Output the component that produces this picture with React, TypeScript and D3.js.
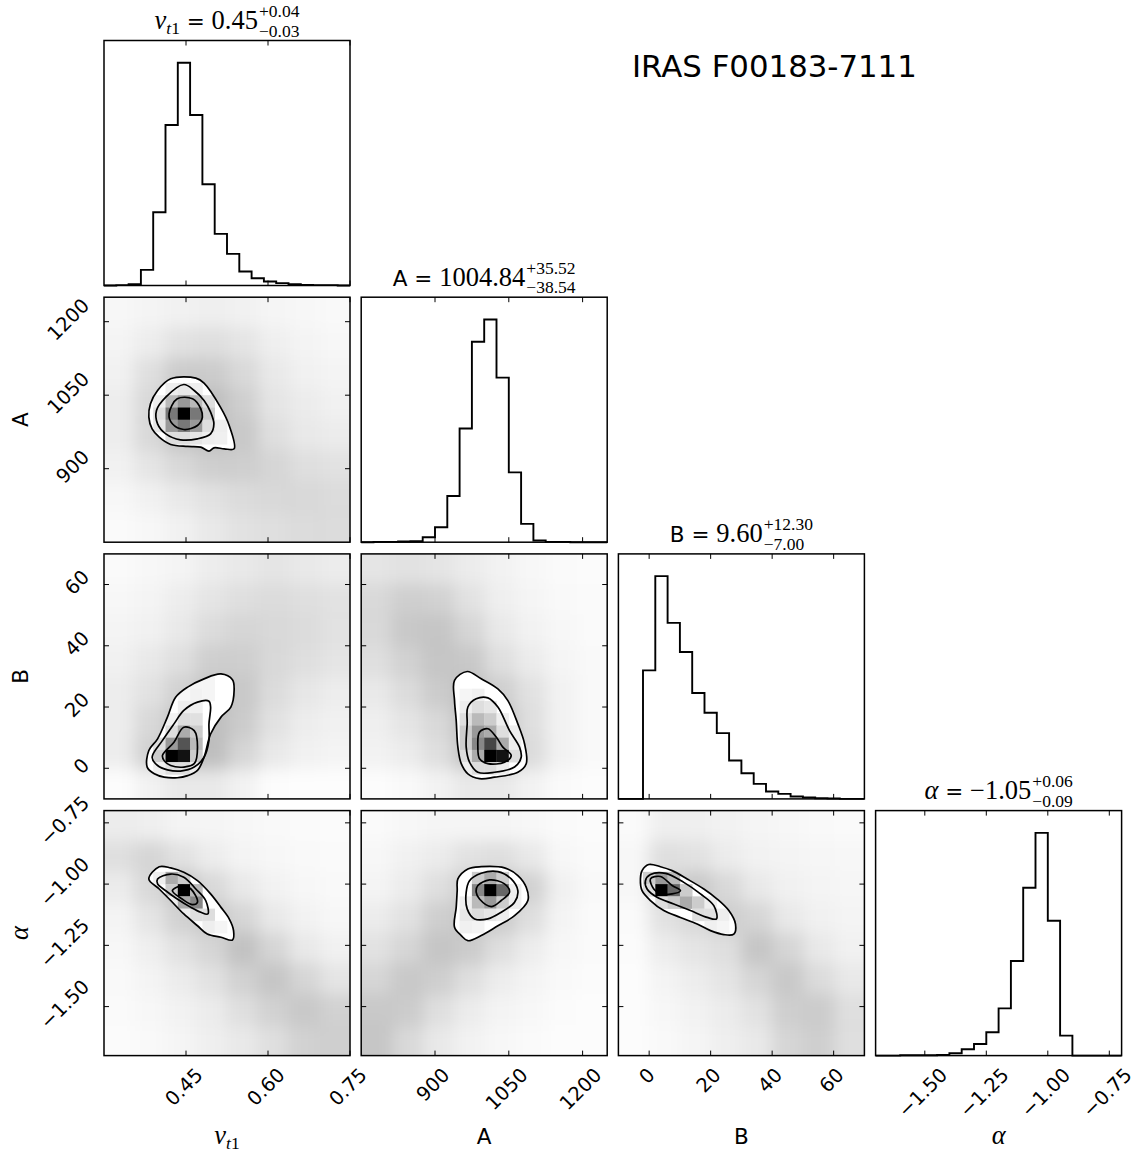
import React, { useEffect, useRef } from "react";
import * as d3 from "d3";

// ---------------- data ----------------
const chartTitle = "IRAS F00183-7111";
const axisRanges: [number, number][] = [[0.3, 0.75], [750, 1250], [-10, 70], [-1.7, -0.7]];
const tickValues = [[0.45, 0.6, 0.75], [900, 1050, 1200], [0, 20, 40, 60], [-1.5, -1.25, -1.0, -0.75]];
const tickLabels = [
  ["0.45", "0.60", "0.75"],
  ["900", "1050", "1200"],
  ["0", "20", "40", "60"],
  ["−1.50", "−1.25", "−1.00", "−0.75"],
];
const titleValues = ["0.45", "1004.84", "9.60", "−1.05"];
const titlePlus = ["+0.04", "+35.52", "+12.30", "+0.06"];
const titleMinus = ["−0.03", "−38.54", "−7.00", "−0.09"];

// 1D histograms, 20 bins across each axis range
const histNu = [0, 1, 4, 47, 220, 482, 669, 512, 304, 155, 95, 42, 22, 12, 7, 4, 2, 1, 1, 0];
const histA = [0, 1, 1, 2, 3, 15, 45, 139, 342, 603, 670, 495, 210, 55, 5, 1, 1, 0, 0, 0];
const histB = [0, 0, 385, 667, 527, 440, 317, 258, 197, 115, 77, 45, 22, 15, 7, 4, 2, 1, 0, 0];
const histAlpha = [0, 0, 1, 1, 1, 2, 7, 19, 35, 70, 142, 284, 504, 669, 405, 60, 0, 0, 0, 0];

// sample-cloud density, 8x8 cells, rows from highest y to lowest y
const densNuA = [
  [0.12, 0.18, 0.22, 0.25, 0.22, 0.15, 0.12, 0.1],
  [0.18, 0.28, 0.45, 0.5, 0.4, 0.25, 0.18, 0.12],
  [0.22, 0.5, 0.8, 0.8, 0.6, 0.35, 0.22, 0.18],
  [0.28, 0.6, 1, 1, 0.75, 0.4, 0.3, 0.22],
  [0.28, 0.6, 0.9, 0.95, 0.85, 0.5, 0.35, 0.3],
  [0.22, 0.4, 0.6, 0.75, 0.75, 0.65, 0.5, 0.45],
  [0.12, 0.22, 0.35, 0.45, 0.55, 0.6, 0.6, 0.55],
  [0.08, 0.12, 0.22, 0.35, 0.45, 0.5, 0.55, 0.55],
];
const densNuB = [
  [0.08, 0.12, 0.18, 0.28, 0.35, 0.4, 0.35, 0.3],
  [0.12, 0.18, 0.28, 0.4, 0.5, 0.55, 0.5, 0.45],
  [0.18, 0.22, 0.35, 0.55, 0.65, 0.6, 0.55, 0.45],
  [0.22, 0.35, 0.5, 0.75, 0.75, 0.6, 0.5, 0.4],
  [0.28, 0.45, 0.7, 0.9, 0.85, 0.55, 0.38, 0.28],
  [0.28, 0.6, 0.9, 1, 0.8, 0.45, 0.28, 0.22],
  [0.28, 0.7, 1, 1, 0.65, 0.35, 0.22, 0.18],
  [0.05, 0.2, 0.35, 0.35, 0.2, 0.05, 0.03, 0.03],
];
const densAB = [
  [0.4, 0.45, 0.4, 0.3, 0.2, 0.12, 0.08, 0.06],
  [0.6, 0.75, 0.7, 0.45, 0.25, 0.15, 0.1, 0.08],
  [0.6, 0.85, 0.9, 0.65, 0.35, 0.2, 0.12, 0.08],
  [0.5, 0.7, 0.9, 0.85, 0.5, 0.3, 0.15, 0.1],
  [0.35, 0.55, 0.8, 0.95, 0.75, 0.45, 0.2, 0.1],
  [0.25, 0.4, 0.6, 0.95, 0.95, 0.5, 0.2, 0.1],
  [0.2, 0.3, 0.5, 0.9, 0.95, 0.55, 0.2, 0.1],
  [0.05, 0.1, 0.2, 0.35, 0.35, 0.2, 0.08, 0.05],
];
const densNuAlpha = [
  [0.3, 0.25, 0.18, 0.15, 0.12, 0.1, 0.08, 0.06],
  [0.5, 0.65, 0.45, 0.28, 0.18, 0.12, 0.1, 0.08],
  [0.3, 0.6, 0.9, 0.6, 0.35, 0.2, 0.12, 0.1],
  [0.18, 0.4, 0.7, 0.85, 0.65, 0.35, 0.2, 0.12],
  [0.12, 0.25, 0.45, 0.65, 0.95, 0.65, 0.35, 0.22],
  [0.1, 0.18, 0.3, 0.45, 0.7, 0.9, 0.65, 0.4],
  [0.08, 0.12, 0.2, 0.3, 0.5, 0.7, 0.85, 0.7],
  [0.06, 0.1, 0.15, 0.25, 0.35, 0.5, 0.7, 0.75],
];
const densAAlpha = [
  [0.08, 0.12, 0.15, 0.15, 0.15, 0.12, 0.08, 0.06],
  [0.12, 0.22, 0.3, 0.45, 0.5, 0.35, 0.12, 0.08],
  [0.18, 0.3, 0.5, 0.75, 0.9, 0.7, 0.22, 0.1],
  [0.3, 0.45, 0.75, 0.85, 0.8, 0.5, 0.18, 0.08],
  [0.45, 0.65, 0.9, 0.8, 0.5, 0.28, 0.12, 0.08],
  [0.65, 0.85, 0.75, 0.5, 0.28, 0.18, 0.1, 0.06],
  [0.85, 0.8, 0.5, 0.3, 0.18, 0.12, 0.06, 0.04],
  [0.9, 0.6, 0.35, 0.2, 0.12, 0.08, 0.04, 0.04],
];
const densBAlpha = [
  [0.08, 0.25, 0.25, 0.2, 0.15, 0.12, 0.1, 0.08],
  [0.12, 0.5, 0.45, 0.3, 0.2, 0.18, 0.14, 0.12],
  [0.12, 0.6, 0.85, 0.6, 0.35, 0.22, 0.18, 0.14],
  [0.08, 0.45, 0.6, 0.75, 0.65, 0.35, 0.22, 0.18],
  [0.06, 0.28, 0.4, 0.5, 0.9, 0.65, 0.35, 0.22],
  [0.05, 0.18, 0.28, 0.4, 0.65, 0.85, 0.55, 0.35],
  [0.04, 0.12, 0.2, 0.3, 0.45, 0.75, 0.8, 0.5],
  [0.04, 0.1, 0.15, 0.25, 0.35, 0.65, 0.75, 0.5],
];

// 2D-histogram cells inside the contours: [xBin, yBin (from bottom), relative density]
const cellsNuA = [
  [5, 12, 0.067], [6, 12, 0.09], [7, 12, 0.067],
  [4, 11, 0.067], [5, 11, 0.27], [6, 11, 0.4], [7, 11, 0.27], [8, 11, 0.13],
  [4, 10, 0.13], [5, 10, 0.53], [6, 10, 1], [7, 10, 0.53], [8, 10, 0.2],
  [4, 9, 0.1], [5, 9, 0.4], [6, 9, 0.53], [7, 9, 0.4], [8, 9, 0.13], [9, 9, 0.067],
  [5, 8, 0.13], [6, 8, 0.13], [7, 8, 0.1], [8, 8, 0.067], [9, 8, 0.06],
];
const cellsNuB = [
  [7, 9, 0.04], [8, 9, 0.04],
  [6, 8, 0.03], [7, 8, 0.05], [8, 8, 0.04],
  [6, 7, 0.067], [7, 7, 0.06],
  [5, 6, 0.05], [6, 6, 0.13], [7, 6, 0.12],
  [5, 5, 0.13], [6, 5, 0.33], [7, 5, 0.2],
  [4, 4, 0.13], [5, 4, 0.4], [6, 4, 0.67], [7, 4, 0.27],
  [4, 3, 0.2], [5, 3, 1], [6, 3, 0.93], [7, 3, 0.2],
  [4, 2, 0.067], [5, 2, 0.13], [6, 2, 0.13], [7, 2, 0.067],
];
const cellsAB = [
  [8, 8, 0.04], [9, 8, 0.06],
  [8, 7, 0.067], [9, 7, 0.13], [10, 7, 0.1],
  [8, 6, 0.13], [9, 6, 0.27], [10, 6, 0.2], [11, 6, 0.067],
  [8, 5, 0.2], [9, 5, 0.4], [10, 5, 0.33], [11, 5, 0.13], [12, 5, 0.067],
  [8, 4, 0.2], [9, 4, 0.47], [10, 4, 0.73], [11, 4, 0.33], [12, 4, 0.067],
  [8, 3, 0.13], [9, 3, 0.33], [10, 3, 1], [11, 3, 0.93], [12, 3, 0.13],
  [8, 2, 0.067], [9, 2, 0.13], [10, 2, 0.13], [11, 2, 0.067],
];
const cellsNuAlpha = [
  [4, 14, 0.067], [5, 14, 0.33], [6, 14, 0.2],
  [5, 13, 0.2], [6, 13, 1], [7, 13, 0.27],
  [5, 12, 0.067], [6, 12, 0.33], [7, 12, 0.47],
  [6, 11, 0.067], [7, 11, 0.13], [8, 11, 0.13],
  [8, 10, 0.067], [9, 10, 0.04],
];
const cellsAAlpha = [
  [9, 14, 0.2], [10, 14, 0.33], [11, 14, 0.2],
  [9, 13, 0.47], [10, 13, 1], [11, 13, 0.6], [12, 13, 0.067],
  [8, 12, 0.067], [9, 12, 0.27], [10, 12, 0.4], [11, 12, 0.2], [12, 12, 0.067],
  [8, 11, 0.09], [9, 11, 0.13], [10, 11, 0.1], [11, 11, 0.067],
  [8, 10, 0.06], [9, 10, 0.047],
];
const cellsBAlpha = [
  [2, 14, 0.2], [3, 14, 0.4], [4, 14, 0.27],
  [2, 13, 0.13], [3, 13, 1], [4, 13, 0.6], [5, 13, 0.2],
  [3, 12, 0.13], [4, 12, 0.2], [5, 12, 0.33], [6, 12, 0.2], [7, 12, 0.067],
  [6, 11, 0.13], [7, 11, 0.12], [8, 11, 0.067],
  [7, 10, 0.06], [8, 10, 0.04],
];

// contour levels (outer, middle, inner) in data coordinates
const contNuA = [
  [[0.422, 1083.4], [0.468, 1084.8], [0.483, 1074.6], [0.513, 1025.6], [0.529, 988.2], [0.538, 940.6], [0.52, 940.6], [0.501, 942.6], [0.492, 935.8], [0.477, 944], [0.453, 945.4], [0.422, 949.4], [0.401, 964.4], [0.388, 981.4], [0.382, 1005.2], [0.385, 1032.4], [0.398, 1059.6]],
  [[0.413, 1046], [0.446, 1071.8], [0.465, 1059.6], [0.483, 1039.2], [0.495, 1015.4], [0.501, 991.6], [0.495, 971.2], [0.471, 961], [0.44, 959], [0.413, 971.2], [0.398, 991.6], [0.396, 1018.8]],
  [[0.434, 1042.6], [0.462, 1042.6], [0.477, 1022.2], [0.48, 1005.2], [0.471, 988.2], [0.446, 980], [0.425, 991.6], [0.419, 1012]],
];
const contNuB = [
  [[0.379, 0.37], [0.382, 5.8], [0.398, 9.6], [0.416, 16.7], [0.431, 23.2], [0.453, 26.5], [0.483, 29.2], [0.514, 30.8], [0.535, 28.9], [0.538, 25.4], [0.532, 20.0], [0.514, 16.7], [0.495, 11.2], [0.483, 3.6], [0.471, -0.7], [0.453, -2.4], [0.434, -3.1], [0.41, -2.9], [0.392, -1.8]],
  [[0.388, 3.6], [0.407, 9.1], [0.428, 14.5], [0.446, 18.9], [0.471, 21.6], [0.492, 21.9], [0.495, 20.0], [0.492, 14.5], [0.492, 9.1], [0.483, 3.6], [0.465, 0.4], [0.44, -0.9], [0.416, -0.5], [0.398, 0.9]],
  [[0.407, 4.2], [0.428, 8.5], [0.446, 13.4], [0.465, 12.3], [0.471, 6.9], [0.465, 1.5], [0.446, 0.4], [0.422, 0.9], [0.41, 2.5]],
];
const contAB = [
  [[939.7, 28.7], [965.4, 31.6], [993.9, 29.2], [1027.8, 25.9], [1048.1, 22.1], [1068.4, 14.5], [1082.0, 8.0], [1085.4, 1.5], [1068.4, -1.3], [1021.0, -2.9], [990.5, -3.4], [966.8, -1.8], [953.3, 1.5], [946.5, 6.9], [943.1, 15.6], [939.7, 22.1]],
  [[966.8, 20.0], [983.7, 22.7], [1007.5, 23.0], [1027.8, 20.0], [1051.5, 12.3], [1071.8, 6.9], [1075.2, 3.6], [1061.7, 0.4], [1021.0, -1.3], [987.1, -1.3], [970.2, 2.0], [963.4, 6.9], [965.4, 14.5]],
  [[990.5, 11.8], [1007.5, 12.9], [1024.4, 10.2], [1037.9, 6.9], [1054.9, 4.2], [1041.3, 2.0], [1007.5, 1.5], [990.5, 3.1], [987.1, 6.9]],
];
const contNuAlpha = [
  [[0.382, -0.979], [0.401, -0.929], [0.422, -0.934], [0.446, -0.952], [0.471, -0.986], [0.495, -1.04], [0.514, -1.095], [0.529, -1.142], [0.537, -1.19], [0.535, -1.228], [0.514, -1.217], [0.489, -1.204], [0.471, -1.17], [0.446, -1.122], [0.422, -1.067], [0.401, -1.02]],
  [[0.398, -0.979], [0.422, -0.959], [0.446, -0.972], [0.468, -1.02], [0.486, -1.067], [0.49, -1.122], [0.477, -1.115], [0.459, -1.095], [0.434, -1.061], [0.413, -1.027], [0.398, -0.999]],
  [[0.425, -1.027], [0.443, -1.006], [0.459, -1.02], [0.471, -1.074], [0.462, -1.084], [0.443, -1.061]],
];
const contAAlpha = [
  [[946.5, -0.979], [966.8, -0.938], [993.9, -0.929], [1041.3, -0.934], [1068.4, -0.965], [1085.4, -1.013], [1088.8, -1.067], [1061.7, -1.129], [1027.8, -1.17], [993.9, -1.21], [966.8, -1.231], [953.3, -1.21], [939.7, -1.176], [943.1, -1.095], [945.1, -1.027]],
  [[970.2, -0.986], [993.9, -0.956], [1027.8, -0.949], [1054.9, -0.979], [1068.4, -1.027], [1061.7, -1.074], [1034.6, -1.115], [1007.5, -1.142], [980.4, -1.142], [965.4, -1.101], [963.4, -1.033]],
  [[987.1, -1.006], [1010.8, -0.983], [1041.3, -0.999], [1051.5, -1.033], [1034.6, -1.067], [1014.2, -1.092], [990.5, -1.061], [983.7, -1.033]],
];
const contBAlpha = [
  [[-2.84, -0.979], [-2.3, -0.945], [-0.13, -0.92], [3.67, -0.929], [7.47, -0.945], [12.35, -0.979], [17.78, -1.02], [22.12, -1.061], [25.91, -1.108], [28.08, -1.163], [27.54, -1.204], [24.29, -1.206], [19.95, -1.19], [15.61, -1.163], [10.18, -1.136], [4.76, -1.108], [0.42, -1.067], [-2.3, -1.027]],
  [[-1.21, -0.986], [0.42, -0.961], [5.3, -0.956], [11.27, -0.993], [16.69, -1.04], [21.03, -1.088], [21.9, -1.142], [18.86, -1.136], [13.44, -1.108], [8.01, -1.081], [2.59, -1.054], [-0.67, -1.02]],
  [[0.42, -0.979], [3.67, -0.969], [7.47, -1.006], [10.18, -1.027], [7.47, -1.04], [3.67, -1.04], [1.5, -1.02]],
];

const hists = [histNu, histA, histB, histAlpha];
const pairs = [
  { row: 1, col: 0, dens: densNuA, cells: cellsNuA, cont: contNuA },
  { row: 2, col: 0, dens: densNuB, cells: cellsNuB, cont: contNuB },
  { row: 2, col: 1, dens: densAB, cells: cellsAB, cont: contAB },
  { row: 3, col: 0, dens: densNuAlpha, cells: cellsNuAlpha, cont: contNuAlpha },
  { row: 3, col: 1, dens: densAAlpha, cells: cellsAAlpha, cont: contAAlpha },
  { row: 3, col: 2, dens: densBAlpha, cells: cellsBAlpha, cont: contBAlpha },
];

// ---------------- layout ----------------
const W = 1138, H = 1154;
const PW = 246, PH = 245;
const colX = (c: number) => 104 + c * 257.2;
const rowY = (r: number) => 40.5 + r * 256.7;
const SANS = "'DejaVu Sans', 'Bitstream Vera Sans', sans-serif";
const SERIF = "'Liberation Serif', 'DejaVu Serif', serif";
const TICK_FS = 19.5;
const MATH_FS = 26.5;
const SUP_FS = 17.5;
const LABEL_FS = 21.5;

function addLabelRun(t: any, k: number, fsMain: number, fsSub: number) {
  if (k === 0) {
    t.append("tspan").attr("font-family", SERIF).attr("font-style", "italic").attr("font-size", fsMain).text("ν");
    t.append("tspan").attr("font-family", SERIF).attr("font-style", "italic").attr("font-size", fsSub).attr("dy", 5).text("t");
    t.append("tspan").attr("font-family", SERIF).attr("font-size", fsSub).text("1");
    return 5;
  } else if (k === 3) {
    t.append("tspan").attr("font-family", SERIF).attr("font-style", "italic").attr("font-size", fsMain).text("α");
    return 0;
  } else {
    t.append("tspan").attr("font-family", SANS).attr("font-size", LABEL_FS).text(k === 1 ? "A" : "B");
    return 0;
  }
}

function App() {
  const ref = useRef<SVGSVGElement>(null);

  useEffect(() => {
    const svg = d3.select(ref.current);
    svg.selectAll("*").remove();
    const defs = svg.append("defs");
    const f = defs.append("filter").attr("id", "haze").attr("x", "-30%").attr("y", "-30%").attr("width", "160%").attr("height", "160%");
    f.append("feGaussianBlur").attr("stdDeviation", 8);

    const lineGen = d3.line<[number, number]>().curve(d3.curveCatmullRomClosed.alpha(0.5));

    const drawTicks = (g: any, xs: any, ys: any, c: number, r: number, diag: boolean) => {
      const x0 = colX(c), y0 = rowY(r);
      tickValues[c].forEach((v) => {
        const x = xs(v);
        g.append("line").attr("x1", x).attr("x2", x).attr("y1", y0 + PH).attr("y2", y0 + PH - 5).attr("stroke", "#000").attr("stroke-width", 1);
        g.append("line").attr("x1", x).attr("x2", x).attr("y1", y0).attr("y2", y0 + 5).attr("stroke", "#000").attr("stroke-width", 1);
      });
      if (!diag) {
        tickValues[r].forEach((v) => {
          const y = ys(v);
          g.append("line").attr("x1", x0).attr("x2", x0 + 5).attr("y1", y).attr("y2", y).attr("stroke", "#000").attr("stroke-width", 1);
          g.append("line").attr("x1", x0 + PW).attr("x2", x0 + PW - 5).attr("y1", y).attr("y2", y).attr("stroke", "#000").attr("stroke-width", 1);
        });
      }
    };

    // diagonal histograms
    hists.forEach((counts, k) => {
      const x0 = colX(k), y0 = rowY(k);
      const xs = d3.scaleLinear().domain(axisRanges[k]).range([x0, x0 + PW]);
      const ys = d3.scaleLinear().domain([0, 1.1 * (d3.max(counts) as number)]).range([y0 + PH, y0]);
      const bw = (axisRanges[k][1] - axisRanges[k][0]) / counts.length;
      const pts: [number, number][] = [[xs(axisRanges[k][0]), ys(0)]];
      counts.forEach((cnt, i) => {
        const e0 = axisRanges[k][0] + i * bw;
        pts.push([xs(e0), ys(cnt)]);
        pts.push([xs(e0 + bw), ys(cnt)]);
      });
      pts.push([xs(axisRanges[k][1]), ys(0)]);
      const g = svg.append("g");
      g.append("path").attr("d", d3.line()(pts)).attr("fill", "none").attr("stroke", "#000").attr("stroke-width", 1.9).attr("stroke-linejoin", "miter");
      g.append("rect").attr("x", x0).attr("y", y0).attr("width", PW).attr("height", PH).attr("fill", "none").attr("stroke", "#000").attr("stroke-width", 1.5);
      drawTicks(g, xs, null, k, k, true);

      // title above
      const tg = svg.append("g");
      const base = y0 - 11.5;
      const t = tg.append("text").attr("x", 0).attr("y", base);
      const dyBack = addLabelRun(t, k, MATH_FS, SUP_FS);
      t.append("tspan").attr("font-family", SANS).attr("font-size", LABEL_FS).attr("dy", -dyBack).text("\u00a0=\u00a0");
      t.append("tspan").attr("font-family", SERIF).attr("font-size", MATH_FS).text(titleValues[k]);
      const w = (t.node() as SVGTextElement).getComputedTextLength();
      const sup = tg.append("text").attr("x", w + 1).attr("y", base - 12).attr("font-family", SERIF).attr("font-size", SUP_FS).text(titlePlus[k]);
      const sub = tg.append("text").attr("x", w + 1).attr("y", base + 7.5).attr("font-family", SERIF).attr("font-size", SUP_FS).text(titleMinus[k]);
      const ws = Math.max((sup.node() as SVGTextElement).getComputedTextLength(), (sub.node() as SVGTextElement).getComputedTextLength());
      const total = w + 1 + ws;
      tg.attr("transform", `translate(${x0 + PW / 2 - total / 2},0)`);
    });

    // 2D panels
    pairs.forEach((p, pi) => {
      const { row: r, col: c } = p;
      const x0 = colX(c), y0 = rowY(r);
      const xr = axisRanges[c], yr = axisRanges[r];
      const xs = d3.scaleLinear().domain(xr).range([x0, x0 + PW]);
      const ys = d3.scaleLinear().domain(yr).range([y0 + PH, y0]);
      const clipId = `clip${pi}`;
      defs.append("clipPath").attr("id", clipId).append("rect").attr("x", x0).attr("y", y0).attr("width", PW).attr("height", PH);
      const g = svg.append("g");
      const inner = g.append("g").attr("clip-path", `url(#${clipId})`);

      // sample cloud haze
      const haze = inner.append("g").attr("filter", "url(#haze)");
      const n = p.dens.length;
      const dx = (xr[1] - xr[0]) / n, dy = (yr[1] - yr[0]) / n;
      p.dens.forEach((rowVals, gi) => {
        rowVals.forEach((d, gj) => {
          let xa = xs(xr[0] + gj * dx), xb = xs(xr[0] + (gj + 1) * dx);
          let ya = ys(yr[1] - gi * dy), yb = ys(yr[1] - (gi + 1) * dy);
          if (gj === 0) xa -= 30;
          if (gj === n - 1) xb += 30;
          if (gi === 0) ya -= 30;
          if (gi === n - 1) yb += 30;
          haze.append("rect").attr("x", xa).attr("y", ya).attr("width", xb - xa + 0.5).attr("height", yb - ya + 0.5)
            .attr("fill", "#000").attr("fill-opacity", d * 0.25);
        });
      });

      const toPx = (arr: number[][]) => arr.map((q) => [xs(q[0]), ys(q[1])] as [number, number]);
      const outerD = lineGen(toPx(p.cont[0])) as string;
      inner.append("path").attr("d", outerD).attr("fill", "#fff");
      const cid = `cclip${pi}`;
      defs.append("clipPath").attr("id", cid).append("path").attr("d", outerD);
      const cellG = inner.append("g").attr("clip-path", `url(#${cid})`);
      const bwx = (xr[1] - xr[0]) / 20, bwy = (yr[1] - yr[0]) / 20;
      p.cells.forEach(([i, j, d]) => {
        const xa = xs(xr[0] + i * bwx), xb = xs(xr[0] + (i + 1) * bwx);
        const ya = ys(yr[0] + (j + 1) * bwy), yb = ys(yr[0] + j * bwy);
        const gv = Math.round(255 * (1 - d));
        cellG.append("rect").attr("x", xa).attr("y", ya).attr("width", xb - xa + 0.3).attr("height", yb - ya + 0.3).attr("fill", `rgb(${gv},${gv},${gv})`);
      });
      p.cont.forEach((lvl) => {
        inner.append("path").attr("d", lineGen(toPx(lvl)) as string).attr("fill", "none").attr("stroke", "#000").attr("stroke-width", 1.7);
      });
      g.append("rect").attr("x", x0).attr("y", y0).attr("width", PW).attr("height", PH).attr("fill", "none").attr("stroke", "#000").attr("stroke-width", 1.5);
      drawTicks(g, xs, ys, c, r, false);
    });

    // tick labels
    const rotLabel = (text: string, mode: string, px: number, py: number) => {
      const t = svg.append("text").attr("font-family", SANS).attr("font-size", TICK_FS).attr("text-anchor", "middle").attr("dominant-baseline", "central").text(text);
      const w = (t.node() as SVGTextElement).getComputedTextLength();
      const e = (w + 0.73 * TICK_FS) * Math.SQRT1_2;
      let cx, cy;
      if (mode === "x") { cx = px - 2; cy = py + 11 + e / 2; } else { cx = px - 13 - e / 2; cy = py - 2; }
      t.attr("transform", `translate(${cx},${cy}) rotate(-45)`);
    };
    for (let c = 0; c < 4; c++) {
      const xs = d3.scaleLinear().domain(axisRanges[c]).range([colX(c), colX(c) + PW]);
      tickValues[c].forEach((v, i) => rotLabel(tickLabels[c][i], "x", xs(v), rowY(3) + PH));
    }
    for (let r = 1; r < 4; r++) {
      const ys = d3.scaleLinear().domain(axisRanges[r]).range([rowY(r) + PH, rowY(r)]);
      tickValues[r].forEach((v, i) => rotLabel(tickLabels[r][i], "y", colX(0), ys(v)));
    }

    // axis labels
    for (let c = 0; c < 4; c++) {
      const lg = svg.append("g");
      const t = lg.append("text").attr("x", 0).attr("y", 1144);
      addLabelRun(t, c, MATH_FS, SUP_FS);
      const w = (t.node() as SVGTextElement).getComputedTextLength();
      lg.attr("transform", `translate(${colX(c) + PW / 2 - w / 2},0)`);
    }
    for (let r = 1; r < 4; r++) {
      const cy = rowY(r) + PH / 2;
      const lg = svg.append("g");
      const t = lg.append("text").attr("x", 0).attr("y", 0);
      addLabelRun(t, r, MATH_FS, SUP_FS);
      const w = (t.node() as SVGTextElement).getComputedTextLength();
      lg.attr("transform", `translate(28,${cy}) rotate(-90) translate(${-w / 2},0)`);
    }

    svg.append("text").attr("x", 632).attr("y", 77).attr("font-family", SANS).attr("font-size", 30.8).attr("fill", "#000").text(chartTitle);
  }, []);

  return (
    <svg ref={ref} width={W} height={H} style={{ position: "absolute", left: 0, top: 0, background: "#fff" }} />
  );
}

export default App;
